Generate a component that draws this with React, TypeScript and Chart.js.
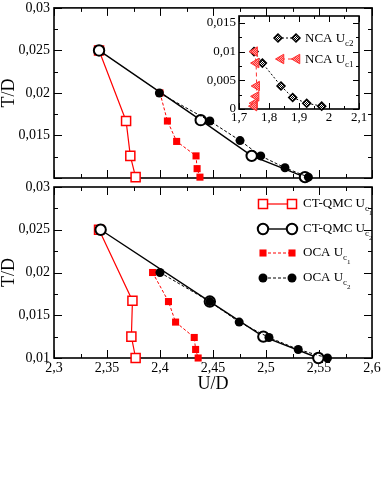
import React, { useEffect, useRef } from 'react';
import { Chart, registerables } from 'chart.js';
Chart.register(...registerables);

// ---------- Data ----------
// Top panel
const topCtqmcUc1U = [2.3425, 2.368, 2.372, 2.377];
const topCtqmcUc1T = [0.025, 0.0167, 0.0126, 0.0101];
const topCtqmcUc2U = [2.3425, 2.4384, 2.4865, 2.5368];
const topCtqmcUc2T = [0.025, 0.0168, 0.0126, 0.0101];
const topOcaUc1U = [2.4, 2.407, 2.4157, 2.434, 2.435, 2.4377];
const topOcaUc1T = [0.02, 0.0167, 0.0143, 0.0126, 0.0111, 0.0101];
const topOcaUc2U = [2.3994, 2.447, 2.4755, 2.495, 2.5179, 2.54];
const topOcaUc2T = [0.02, 0.0167, 0.0144, 0.0126, 0.0112, 0.0101];

// Bottom panel
const botCtqmcUc1U = [2.3425, 2.374, 2.373, 2.377];
const botCtqmcUc1T = [0.025, 0.0167, 0.0125, 0.01];
const botCtqmcUc2U = [2.344, 2.447, 2.4975, 2.5494];
const botCtqmcUc2T = [0.025, 0.0166, 0.0125, 0.01];
const botOcaUc1U = [2.393, 2.408, 2.4147, 2.4323, 2.4336, 2.436];
const botOcaUc1T = [0.02, 0.0166, 0.0142, 0.0124, 0.011, 0.01];
const botOcaUc2U = [2.4, 2.447, 2.4747, 2.5028, 2.5304, 2.558];
const botOcaUc2T = [0.02, 0.0166, 0.0142, 0.0124, 0.011, 0.01];

// Inset
const ncaUc2U = [1.75, 1.778, 1.84, 1.879, 1.9257, 1.9757];
const ncaUc2T = [0.01, 0.008, 0.004, 0.002, 0.001, 0.0005];
const ncaUc1U = [1.752, 1.757, 1.759, 1.757, 1.752, 1.75];
const ncaUc1T = [0.01, 0.008, 0.004, 0.0022, 0.001, 0.0005];

// Axes
const mainUMin = 2.3, mainUMax = 2.6, mainUStep = 0.05;
const mainTMin = 0.01, mainTMax = 0.03, mainTStep = 0.005;
const insetUMin = 1.7, insetUMax = 2.1, insetUStep = 0.1;
const insetTMin = 0, insetTMax = 0.0162, insetTStep = 0.005;

const FONT = '"Liberation Serif", "Times New Roman", serif';

const pts = (xs: number[], ys: number[]) => xs.map((x, i) => ({ x, y: ys[i] }));
const fmt = (v: any) => {
  const r = Math.round(Number(v) * 10000) / 10000;
  return String(r).replace('.', ',');
};

function framePlugin(id: string, xMaj: number, xMin: number, yMaj: number, yMin: number, majLen: number, minLen: number, whiteBg: boolean) {
  return {
    id,
    beforeDraw(chart: any) {
      if (!whiteBg) return;
      const { ctx, chartArea: a } = chart;
      ctx.save();
      ctx.fillStyle = '#fff';
      ctx.fillRect(a.left, a.top, a.right - a.left, a.bottom - a.top);
      ctx.restore();
    },
    beforeDatasetsDraw(chart: any) {
      const { ctx, chartArea: a, scales } = chart;
      const xs = scales.x, ys = scales.y;
      ctx.save();
      ctx.strokeStyle = '#000';
      ctx.lineWidth = 1;
      const doX = (step: number, len: number) => {
        const k0 = Math.ceil(xs.min / step - 1e-6);
        for (let k = k0; k * step <= xs.max + 1e-9; k++) {
          const px = Math.round(xs.getPixelForValue(k * step)) + 0.5;
          ctx.beginPath();
          ctx.moveTo(px, a.bottom); ctx.lineTo(px, a.bottom - len);
          ctx.moveTo(px, a.top); ctx.lineTo(px, a.top + len);
          ctx.stroke();
        }
      };
      const doY = (step: number, len: number) => {
        const k0 = Math.ceil(ys.min / step - 1e-6);
        for (let k = k0; k * step <= ys.max + 1e-9; k++) {
          const py = Math.round(ys.getPixelForValue(k * step)) + 0.5;
          ctx.beginPath();
          ctx.moveTo(a.left, py); ctx.lineTo(a.left + len, py);
          ctx.moveTo(a.right, py); ctx.lineTo(a.right - len, py);
          ctx.stroke();
        }
      };
      doX(xMin, minLen); doX(xMaj, majLen);
      doY(yMin, minLen); doY(yMaj, majLen);
      ctx.lineWidth = 1.6;
      ctx.strokeRect(a.left, a.top, a.right - a.left, a.bottom - a.top);
      ctx.restore();
    },
  };
}

function drawMarker(ctx: CanvasRenderingContext2D, style: string, x: number, y: number, r: number, fill: any, stroke: string, lw: number) {
  ctx.beginPath();
  if (style === 'rect') {
    const s = r * Math.SQRT1_2;
    ctx.rect(x - s, y - s, 2 * s, 2 * s);
  } else if (style === 'circle') {
    ctx.arc(x, y, r, 0, Math.PI * 2);
  } else if (style === 'diamond') {
    ctx.moveTo(x - r, y); ctx.lineTo(x, y - r); ctx.lineTo(x + r, y); ctx.lineTo(x, y + r); ctx.closePath();
  } else if (style === 'triLeft') {
    const a = (2 * Math.PI) / 3;
    ctx.moveTo(x - r, y);
    ctx.lineTo(x - r * Math.cos(a), y - r * Math.sin(a));
    ctx.lineTo(x - r * Math.cos(a), y + r * Math.sin(a));
    ctx.closePath();
  }
  ctx.fillStyle = fill; ctx.fill();
  ctx.lineWidth = lw; ctx.strokeStyle = stroke; ctx.stroke();
}

function drawSubLabel(ctx: CanvasRenderingContext2D, x: number, y: number, main: string, sub: string, subsub: string, size: number) {
  ctx.fillStyle = '#000';
  ctx.textBaseline = 'alphabetic';
  ctx.textAlign = 'left';
  ctx.font = `${size}px ${FONT}`;
  ctx.fillText(main, x, y);
  let w = ctx.measureText(main).width;
  ctx.font = `${Math.round(size * 0.68)}px ${FONT}`;
  ctx.fillText(sub, x + w, y + 4);
  const w2 = ctx.measureText(sub).width;
  if (subsub) {
    ctx.font = `${Math.round(size * 0.5)}px ${FONT}`;
    ctx.fillText(subsub, x + w + w2, y + 8);
  }
}

const styles = {
  ctqmc1: { borderColor: '#ff0000', borderWidth: 1.2, pointStyle: 'rect', pointRadius: 6.4, pointBorderWidth: 1.5, pointBackgroundColor: '#ffffff', pointBorderColor: '#ff0000', order: 4 },
  ctqmc2: { borderColor: '#000000', borderWidth: 1.4, pointStyle: 'circle', pointRadius: 5.2, pointBorderWidth: 2, pointBackgroundColor: '#ffffff', pointBorderColor: '#000000', order: 3 },
  oca1: { borderColor: '#ff0000', borderWidth: 1, borderDash: [3, 2], pointStyle: 'rect', pointRadius: 5, pointBorderWidth: 0, pointBackgroundColor: '#ff0000', pointBorderColor: '#ff0000', order: 2 },
  oca2: { borderColor: '#000000', borderWidth: 1, borderDash: [3, 2], pointStyle: 'circle', pointRadius: 4.5, pointBorderWidth: 0, pointBackgroundColor: '#000000', pointBorderColor: '#000000', order: 1 },
};

function mainOptions(showX: boolean, hideLowLabel: boolean, padding: any) {
  return {
    responsive: false,
    animation: false,
    devicePixelRatio: 1,
    layout: { padding },
    plugins: { legend: { display: false }, tooltip: { enabled: false } },
    elements: { line: { tension: 0 } },
    scales: {
      x: {
        type: 'linear', display: showX, min: mainUMin, max: mainUMax,
        grid: { display: false, drawTicks: false }, border: { display: false },
        ticks: { stepSize: mainUStep, autoSkip: false, maxRotation: 0, padding: 2, color: '#000', font: { family: FONT, size: 14 }, callback: fmt },
        title: { display: showX, text: 'U/D', color: '#000', font: { family: FONT, size: 18, lineHeight: 1 }, padding: 0 },
        afterFit: (s: any) => { s.height = showX ? 35 : 0; s.paddingLeft = 0; s.paddingRight = 0; s.paddingTop = 0; s.paddingBottom = 0; },
      },
      y: {
        type: 'linear', min: mainTMin, max: mainTMax,
        grid: { display: false, drawTicks: false }, border: { display: false },
        ticks: {
          stepSize: mainTStep, autoSkip: false, padding: 4, color: '#000', font: { family: FONT, size: 14 },
          callback: (v: any) => (hideLowLabel && Number(v) < mainTMin + 1e-6 ? '' : fmt(v)),
        },
        title: { display: true, text: 'T/D', color: '#000', font: { family: FONT, size: 18, lineHeight: 1 }, padding: 0 },
        afterFit: (s: any) => { s.width = 54; s.paddingTop = 0; s.paddingBottom = 0; s.paddingLeft = 0; s.paddingRight = 0; },
      },
    },
  };
}

function mainDatasets(c1u: number[], c1t: number[], c2u: number[], c2t: number[], o1u: number[], o1t: number[], o2u: number[], o2t: number[]) {
  return [
    { label: 'CT-QMC Uc1', data: pts(c1u, c1t), clip: false, ...styles.ctqmc1 },
    { label: 'CT-QMC Uc2', data: pts(c2u, c2t), clip: false, ...styles.ctqmc2 },
    { label: 'OCA Uc1', data: pts(o1u, o1t), clip: false, ...styles.oca1 },
    { label: 'OCA Uc2', data: pts(o2u, o2t), clip: false, ...styles.oca2 },
  ];
}

const legendPlugin = {
  id: 'mainLegend',
  afterDatasetsDraw(chart: any) {
    const ctx: CanvasRenderingContext2D = chart.ctx;
    const x1 = 263, x2 = 292, tx = 303;
    const rows = [
      { y: 204, st: styles.ctqmc1, main: 'CT-QMC U', sub: 'c', ss: '1' },
      { y: 229, st: styles.ctqmc2, main: 'CT-QMC U', sub: 'c', ss: '2' },
      { y: 253, st: styles.oca1, main: 'OCA U', sub: 'c', ss: '1' },
      { y: 278, st: styles.oca2, main: 'OCA U', sub: 'c', ss: '2' },
    ];
    ctx.save();
    rows.forEach((r) => {
      const st: any = r.st;
      ctx.beginPath();
      ctx.setLineDash(st.borderDash || []);
      ctx.strokeStyle = st.borderColor;
      ctx.lineWidth = st.borderWidth;
      ctx.moveTo(x1, r.y); ctx.lineTo(x2, r.y); ctx.stroke();
      ctx.setLineDash([]);
      [x1, x2].forEach((x) => drawMarker(ctx, st.pointStyle, x, r.y, st.pointRadius, st.pointBackgroundColor, st.pointBorderColor, st.pointBorderWidth || 0.01));
      drawSubLabel(ctx, tx, r.y + 3, r.main, r.sub, r.ss, 13);
    });
    ctx.restore();
  },
};

export default function App() {
  const topRef = useRef<HTMLCanvasElement>(null);
  const botRef = useRef<HTMLCanvasElement>(null);
  const insRef = useRef<HTMLCanvasElement>(null);

  useEffect(() => {
    const mk = (c1: string, c2: string) => {
      const c = document.createElement('canvas');
      c.width = 2; c.height = 2;
      const g = c.getContext('2d')!;
      g.fillStyle = c1; g.fillRect(0, 0, 2, 2);
      g.fillStyle = c2; g.fillRect(0, 0, 1, 1); g.fillRect(1, 1, 1, 1);
      return g.createPattern(c, 'repeat');
    };
    const diamondFill = mk('#ffffff', '#000000');
    const triFill = mk('#ffa0a0', '#ff3030');

    const top = new Chart(topRef.current!, {
      type: 'line',
      data: { datasets: mainDatasets(topCtqmcUc1U, topCtqmcUc1T, topCtqmcUc2U, topCtqmcUc2T, topOcaUc1U, topOcaUc1T, topOcaUc2U, topOcaUc2T) as any },
      options: mainOptions(false, true, { left: 0, top: 7, right: 10, bottom: 325 }) as any,
      plugins: [framePlugin('frameTop', mainUStep, mainUStep / 2, mainTStep, mainTStep / 2, 8, 4, false)],
    });

    const bot = new Chart(botRef.current!, {
      type: 'line',
      data: { datasets: mainDatasets(botCtqmcUc1U, botCtqmcUc1T, botCtqmcUc2U, botCtqmcUc2T, botOcaUc1U, botOcaUc1T, botOcaUc2U, botOcaUc2T) as any },
      options: mainOptions(true, false, { left: 0, top: 187, right: 10, bottom: 110 }) as any,
      plugins: [framePlugin('frameBot', mainUStep, mainUStep / 2, mainTStep, mainTStep / 2, 8, 4, false), legendPlugin],
    });

    const ncaStyles = {
      uc2: { borderColor: '#000000', borderWidth: 1, borderDash: [2, 2], pointStyle: 'rectRot', pointRadius: 4, pointBorderWidth: 1.5, pointBackgroundColor: diamondFill, pointBorderColor: '#000000', order: 2 },
      uc1: { borderColor: '#ff3030', borderWidth: 1, borderDash: [4, 3], pointStyle: 'triangle', pointRotation: -90, pointRadius: 5.5, pointBorderWidth: 1, pointBackgroundColor: triFill, pointBorderColor: '#ff3030', order: 1 },
    };

    const insetLegend = {
      id: 'insetLegend',
      afterDatasetsDraw(chart: any) {
        const ctx: CanvasRenderingContext2D = chart.ctx;
        ctx.save();
        const rows = [
          { y: 38, x1: 278, x2: 296, st: ncaStyles.uc2, shape: 'diamond', r: 4, sub: 'c2' },
          { y: 59, x1: 281, x2: 297, st: ncaStyles.uc1, shape: 'triLeft', r: 5.5, sub: 'c1' },
        ];
        rows.forEach((r) => {
          const st: any = r.st;
          ctx.beginPath();
          ctx.setLineDash(st.borderDash);
          ctx.strokeStyle = st.borderColor; ctx.lineWidth = 1;
          ctx.moveTo(r.x1, r.y); ctx.lineTo(r.x2, r.y); ctx.stroke();
          ctx.setLineDash([]);
          [r.x1, r.x2].forEach((x) => drawMarker(ctx, r.shape, x, r.y, r.r, st.pointBackgroundColor, st.pointBorderColor, st.pointBorderWidth));
          drawSubLabel(ctx, 305, r.y + 4, 'NCA U', r.sub, '', 13);
        });
        ctx.restore();
      },
    };

    const ins = new Chart(insRef.current!, {
      type: 'line',
      data: {
        datasets: [
          { label: 'NCA Uc2', data: pts(ncaUc2U, ncaUc2T), clip: false, ...ncaStyles.uc2 },
          { label: 'NCA Uc1', data: pts(ncaUc1U, ncaUc1T), clip: false, ...ncaStyles.uc1 },
        ] as any,
      },
      options: {
        responsive: false,
        animation: false,
        devicePixelRatio: 1,
        layout: { padding: { left: 199, top: 16, right: 23, bottom: 379 } },
        plugins: { legend: { display: false }, tooltip: { enabled: false } },
        elements: { line: { tension: 0 } },
        scales: {
          x: {
            type: 'linear', min: insetUMin, max: insetUMax,
            grid: { display: false, drawTicks: false }, border: { display: false },
            ticks: { stepSize: insetUStep, autoSkip: false, maxRotation: 0, padding: 1, color: '#000', font: { family: FONT, size: 13 }, callback: fmt },
            afterFit: (s: any) => { s.height = 15; s.paddingLeft = 0; s.paddingRight = 0; s.paddingTop = 0; s.paddingBottom = 0; },
          },
          y: {
            type: 'linear', min: insetTMin, max: insetTMax,
            grid: { display: false, drawTicks: false }, border: { display: false },
            ticks: { stepSize: insetTStep, includeBounds: false, autoSkip: false, padding: 3, color: '#000', font: { family: FONT, size: 13 }, callback: fmt },
            afterFit: (s: any) => { s.width = 40; s.paddingTop = 0; s.paddingBottom = 0; s.paddingLeft = 0; s.paddingRight = 0; },
          },
        },
      } as any,
      plugins: [framePlugin('frameIns', insetUStep, insetUStep / 2, insetTStep, insetTStep / 2, 6, 3, true), insetLegend],
    });

    return () => { top.destroy(); bot.destroy(); ins.destroy(); };
  }, []);

  const cs: React.CSSProperties = { position: 'absolute', left: 0, top: 0, width: 382, height: 503 };
  return (
    <div style={{ position: 'absolute', left: 0, top: 0, width: 382, height: 503, background: '#fff' }}>
      <canvas ref={topRef} width={382} height={503} style={cs} />
      <canvas ref={botRef} width={382} height={503} style={cs} />
      <canvas ref={insRef} width={382} height={503} style={cs} />
    </div>
  );
}
